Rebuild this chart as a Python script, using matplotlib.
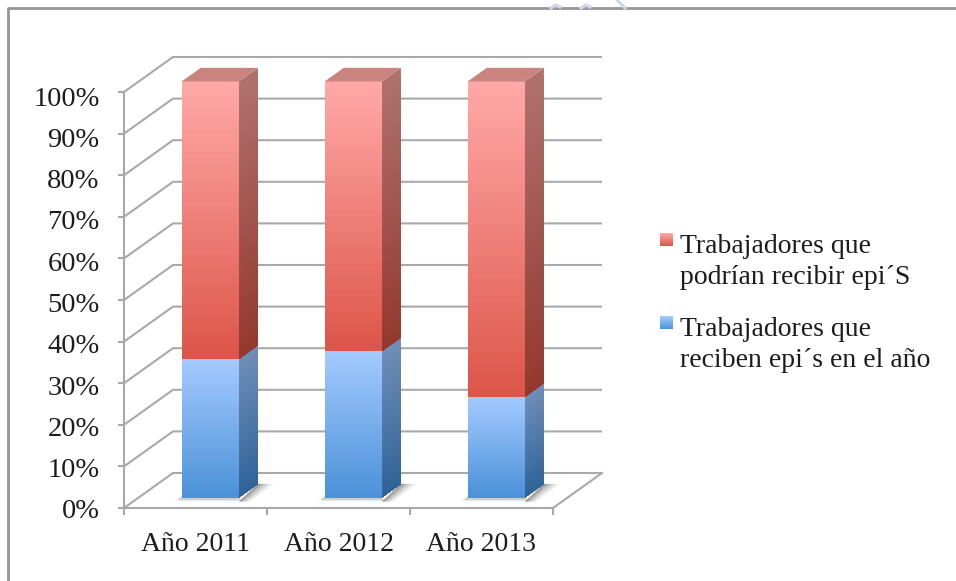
import numpy as np
import matplotlib
matplotlib.use("Agg")
import matplotlib.pyplot as plt
from matplotlib.collections import PolyCollection
from matplotlib.colors import to_rgb
from matplotlib.patches import Polygon
from matplotlib.transforms import ScaledTranslation

W, H = 956, 581

categories = ["Año 2011", "Año 2012", "Año 2013"]
receive_pct = [33.3, 35.2, 24.2]
could_receive_pct = [66.7, 64.8, 75.8]
y_ticks = [0, 10, 20, 30, 40, 50, 60, 70, 80, 90, 100]
legend_could = "Trabajadores que\npodrían recibir epi´S"
legend_receive = "Trabajadores que\nreciben epi´s en el año"

GRID = "#a9a9a9"
FRAME = "#969696"
TEXT = "#1c1c1c"
WATERMARK = "#c9d8f0"
FONT = "Liberation Serif"

# oblique projection of the 3D box, in data units per unit of depth
DX = 49 / 143
DY = 35 / 4.16
BAR_HALF = 0.2
DEPTH_FRONT = 0.3
DEPTH_BACK = 0.69

RED = dict(front=("#ffa9a8", "#dc5548"), side=("#b0726e", "#94382f"), top="#c98480")
BLUE = dict(front=("#a4caff", "#4b91d8"), side=("#708fb8", "#2f6398"), top="#8fa9c8")


def proj(x, y, depth):
    return x + depth * DX, y + depth * DY


def gradient_quad(ax, top_l, top_r, bot_r, bot_l, colors, transform=None, zorder=3, n=40):
    """Fill a quad with a vertical gradient; strips overlap downwards so no seams show."""
    top_l, top_r, bot_r, bot_l = map(np.array, (top_l, top_r, bot_r, bot_l))
    c0, c1 = np.array(to_rgb(colors[0])), np.array(to_rgb(colors[1]))
    polys, cols = [], []
    for i in range(n):
        a = i / n
        polys.append([top_l + (bot_l - top_l) * a, top_r + (bot_r - top_r) * a, bot_r, bot_l])
        cols.append(c0 + (c1 - c0) * (i + 0.5) / n)
    pc = PolyCollection(polys, facecolors=cols, edgecolors="none", linewidths=0,
                        zorder=zorder, clip_on=False)
    if transform is not None:
        pc.set_transform(transform)
    ax.add_collection(pc)


def draw_segment(ax, cat_x, y0, y1, style):
    xl, xr = cat_x - BAR_HALF, cat_x + BAR_HALF
    f = DEPTH_FRONT
    b = DEPTH_BACK
    # side face
    gradient_quad(ax, proj(xr, y1, f), proj(xr, y1, b), proj(xr, y0, b), proj(xr, y0, f), style["side"])
    # front face
    gradient_quad(ax, proj(xl, y1, f), proj(xr, y1, f), proj(xr, y0, f), proj(xl, y0, f), style["front"], zorder=4)


def draw_shadow(ax, cat_x):
    xl, xr = cat_x - BAR_HALF, cat_x + BAR_HALF
    f, b = DEPTH_FRONT, DEPTH_BACK
    # soft floor shadow to the right of the bar
    for grow, alpha in [(0.11, 0.08), (0.08, 0.12), (0.05, 0.16), (0.025, 0.2)]:
        pts = [proj(xr, -1, f), proj(xr, 0, b), proj(xr + grow, 0, b),
               proj(xr + grow * 0.7, -1, f)]
        ax.add_patch(Polygon(pts, closed=True, fc="#303030", ec="none", alpha=alpha,
                             zorder=2, clip_on=False))
    # thin blur under the front edge
    for grow, alpha in [(0.05, 0.10), (0.025, 0.16)]:
        pts = [proj(xl - grow, -0.7, f), proj(xr + grow * 0.5, -0.7, f),
               proj(xr, 0.3, f), proj(xl, 0.3, f)]
        ax.add_patch(Polygon(pts, closed=True, fc="#404040", ec="none", alpha=alpha,
                             zorder=2, clip_on=False))


def main():
    plt.rcParams["font.family"] = [FONT, "DejaVu Serif"]
    fig = plt.figure(figsize=(W / 100, H / 100), dpi=100, facecolor="white")
    ax = fig.add_axes([124 / W, (H - 508) / H, 429 / W, 416 / H])
    ax.patch.set_visible(False)
    n = len(categories)
    ax.set_xlim(-0.5, n - 0.5)
    ax.set_ylim(0, 100)

    # walls and floor
    for val in y_ticks:
        xs, ys = zip(proj(-0.5, val, 0), proj(-0.5, val, 1), proj(n - 0.5, val, 1))
        ax.plot(xs, ys, color=GRID, lw=1.5, zorder=1, clip_on=False, solid_capstyle="butt")
    xs, ys = zip(proj(n - 0.5, 0, 0), proj(n - 0.5, 0, 1))
    ax.plot(xs, ys, color=GRID, lw=1.5, zorder=1, clip_on=False)

    # bars
    for i in range(n):
        draw_shadow(ax, i)
        low, high = receive_pct[i], receive_pct[i] + could_receive_pct[i]
        draw_segment(ax, i, 0, low, BLUE)
        draw_segment(ax, i, low, high, RED)
        xl, xr = i - BAR_HALF, i + BAR_HALF
        roof = [proj(xl, high, DEPTH_FRONT), proj(xr, high, DEPTH_FRONT),
                proj(xr, high, DEPTH_BACK), proj(xl, high, DEPTH_BACK)]
        ax.add_patch(Polygon(roof, closed=True, fc=RED["top"], ec="none", zorder=5, clip_on=False))

    # axes
    for side in ("top", "right"):
        ax.spines[side].set_visible(False)
    for side in ("left", "bottom"):
        ax.spines[side].set_color(GRID)
        ax.spines[side].set_linewidth(1.5)
    ax.set_yticks(y_ticks)
    ax.set_yticklabels([f"{v}%" for v in y_ticks])
    ax.set_xticks(range(n))
    ax.set_xticklabels(categories)
    ax.set_xticks(np.arange(n + 1) - 0.5, minor=True)
    ax.tick_params(axis="y", length=4.5, width=1.5, color=GRID, pad=13, labelsize=20.5, labelcolor=TEXT)
    ax.tick_params(axis="x", which="major", length=0, pad=17, labelsize=20, labelcolor=TEXT)
    ax.tick_params(axis="x", which="minor", length=5, width=1.5, color=GRID)

    # y labels sit a little below their ticks, more so towards the top
    for val, label in zip(y_ticks, ax.get_yticklabels()):
        shift = -(1 + 3 * val / 100) / 100
        label.set_transform(label.get_transform() + ScaledTranslation(0, shift, fig.dpi_scale_trans))

    # legend, placed in pixels of the figure
    to_fig = lambda px, py: (px / W, 1 - py / H)
    entries = [(legend_could, 233, RED["front"], 262), (legend_receive, 316, BLUE["front"], 345)]
    for label, top, colors, text_y in entries:
        gradient_quad(ax, to_fig(660, top), to_fig(673, top), to_fig(673, top + 13), to_fig(660, top + 13),
                      colors, transform=fig.transFigure, n=13)
        fig.text(*to_fig(680, text_y), label, ha="left", va="center", fontsize=20,
                 color=TEXT, linespacing=1.34)

    # page frame left over from the source document
    fig.add_artist(plt.Line2D([8 / W, 8 / W, 1], [0, 1 - 8 / H, 1 - 8 / H], color=FRAME, lw=2.0))

    # cut-off watermark strokes above the frame
    for xs, ys in [([551, 555, 560], [8, 5, 7]), ([581, 586, 590], [8, 5, 7]), ([617, 621, 625], [0, 4, 8])]:
        fig.add_artist(plt.Line2D([x / W for x in xs], [1 - y / H for y in ys], color=WATERMARK, lw=2.2))

    fig.savefig("out.png", dpi=100, facecolor="white")
    plt.close(fig)


if __name__ == "__main__":
    main()
